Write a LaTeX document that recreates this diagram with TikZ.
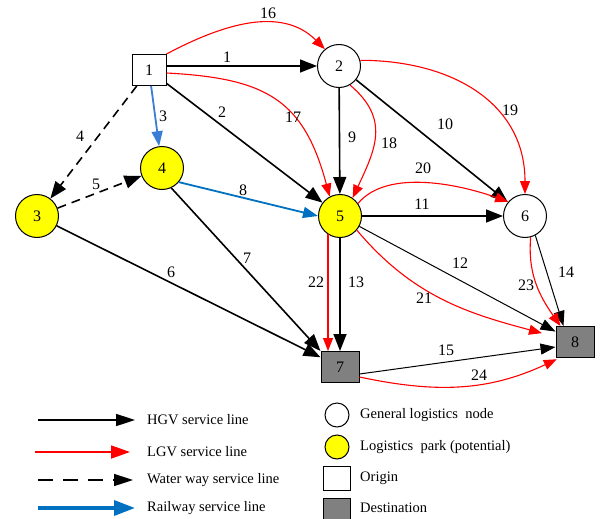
\documentclass[tikz,border=0pt]{standalone}
\usepackage{fontspec}
\setmainfont{Liberation Serif}
\usetikzlibrary{arrows.meta}
\definecolor{railblue}{RGB}{0,112,192}
\definecolor{railblue2}{RGB}{58,125,215}
\definecolor{parkyellow}{RGB}{255,255,0}
\definecolor{destgray}{RGB}{128,128,128}
\begin{document}
\begin{tikzpicture}[x=1pt,y=1pt,
 circ/.style={circle,draw,line width=1pt,minimum size=43pt,inner sep=0pt,font=\fontsize{16}{16}\selectfont},
 gen/.style={circ,fill=white},
 parknode/.style={circ,fill=parkyellow},
 orig/.style={rectangle,draw,line width=1pt,fill=white,minimum width=34pt,minimum height=31pt,inner sep=0pt,font=\fontsize{16}{16}\selectfont},
 destn/.style={orig,fill=destgray,minimum width=38pt},
 hgv/.style={line width=1.6pt,-{Triangle[length=17pt,width=13pt]}},
 thinl/.style={line width=1pt,-{Triangle[length=15pt,width=11pt]}},
 lgv/.style={red,line width=1.1pt,-{Triangle[length=13pt,width=10pt]}},
 water/.style={hgv,dash pattern=on 9pt off 6pt},
 railline/.style={railblue,line width=1.8pt,-{Triangle[length=15pt,width=11pt]}},
 lab/.style={font=\fontsize{16}{16}\selectfont,inner sep=0pt},
 legtext/.style={font=\fontsize{14.5}{14.5}\selectfont,anchor=west,inner sep=0pt},
 legsym/.style={draw,line width=1pt,inner sep=0pt}
]
\useasboundingbox (0,0) rectangle (610,-519);
% nodes
\node[orig] (n1) at (149,-70) {1};
\node[gen] (n2) at (339,-66) {2};
\node[parknode] (n3) at (37,-216) {3};
\node[parknode] (n4) at (162,-168) {4};
\node[parknode] (n5) at (340,-216) {5};
\node[gen] (n6) at (525,-216) {6};
\node[destn] (n7) at (340,-367) {7};
\node[destn] (n8) at (575,-342) {8};
% edges
\draw[hgv] (n1.east |- n2) -- (n2.west);
\draw[lgv] (n1.north east) to[out=28,in=135] (n2.130);
\draw[lgv] ([yshift=-3pt]n1.east) to[out=-3,in=105,looseness=1.25] (n5.118);
\draw[hgv] (n1) -- (n5);
\draw[railline,color=railblue2] (n1) -- (n4);
\draw[water] (n1) -- (n3);
\draw[water] (n3) -- (n4);
\draw[railline] (n4.-40) -- (n5.west);
\draw[hgv] (n3) -- (n7);
\draw[hgv] (n4.-65) -- (n7.north west);
\draw[hgv] (n2) -- (n5);
\draw[lgv] (n2.-60) to[out=-40,in=65,looseness=1.2] (n5.55);
\draw[hgv] (n2) -- (n6);
\draw[lgv] (n2.15) to[out=0,in=90,looseness=1.1] (n6.north);
\draw[lgv] (n5.35) to[out=50,in=160,looseness=0.8] (n6.140);
\draw[hgv] (n5) -- (n6);
\draw[thinl] (n5) -- (n8);
\draw[lgv,shorten >=14pt] (n5.-40) to[out=-50,in=165] (n8.165);
\draw[hgv] (n5.south) -- (n7.north);
\draw[lgv] (n5.-123) -- (n5.-123 |- n7.north);
\draw[thinl] (n6.-62) -- ([xshift=8pt]n8.north west);
\draw[lgv] (n6.-75) to[out=-95,in=125] ([xshift=5pt]n8.north west);
\draw[thinl] ([yshift=-7pt]n7.east) -- ([yshift=-5pt]n8.west);
\draw[lgv,shorten >=3pt] ([yshift=-10pt]n7.east) to[out=-12,in=-155] ([xshift=4pt]n8.south west);
% edge labels
\node[lab] (l1) at (227,-57) {1};
\node[lab] (l16) at (268,-13) {16};
\node[lab] (l17) at (293,-117) {17};
\node[lab] (l2) at (222,-112) {2};
\node[lab] (l3) at (163,-116) {3};
\node[lab] (l4) at (80,-136) {4};
\node[lab] (l5) at (96,-184) {5};
\node[lab] (l8) at (243,-190) {8};
\node[lab] (l6) at (171,-272) {6};
\node[lab] (l7) at (247,-258) {7};
\node[lab] (l9) at (352,-137) {9};
\node[lab] (l18) at (389,-143) {18};
\node[lab] (l10) at (445,-124) {10};
\node[lab] (l19) at (510,-110) {19};
\node[lab] (l20) at (423,-168) {20};
\node[lab] (l11) at (422,-204) {11};
\node[lab] (l12) at (460,-263) {12};
\node[lab] (l21) at (424,-298) {21};
\node[lab] (l13) at (356,-282) {13};
\node[lab] (l22) at (316,-282) {22};
\node[lab] (l14) at (566,-272) {14};
\node[lab] (l23) at (526,-285) {23};
\node[lab] (l15) at (446,-350) {15};
\node[lab] (l24) at (479,-375) {24};
% legend left
\coordinate (h1) at (38,-420); \coordinate (h2) at (135,-420);
\coordinate (g1) at (35,-452); \coordinate (g2) at (130,-452);
\coordinate (w1) at (38,-480); \coordinate (w2) at (133,-480);
\coordinate (r1) at (38,-508); \coordinate (r2) at (135,-508);
\draw[line width=1.6pt,-{Triangle[length=19pt,width=12pt]}] (h1) -- (h2);
\draw[red,line width=1.8pt,-{Triangle[length=19pt,width=13pt]}] (g1) -- (g2);
\draw[line width=1.6pt,dash pattern=on 15pt off 10pt,-{Triangle[length=19pt,width=12pt]}] (w1) -- (w2);
\draw[railblue,line width=3.5pt,-{Triangle[length=21pt,width=15pt]}] (r1) -- (r2);
\node[legtext] (t1) at (147,-420) {HGV service line};
\node[legtext] (t2) at (147,-452) {LGV service line};
\node[legtext] (t3) at (147,-480) {Water way service line};
\node[legtext] (t4) at (147,-508) {Railway service line};
% legend right
\node[legsym,circle,fill=white,minimum size=24pt] (s1) at (337,-415) {};
\node[legsym,circle,fill=parkyellow,minimum size=24pt] (s2) at (337,-447) {};
\node[legsym,rectangle,fill=white,minimum width=27pt,minimum height=24pt] (s3) at (337,-478) {};
\node[legsym,rectangle,fill=destgray,minimum width=27pt,minimum height=24pt] (s4) at (337,-510) {};
\node[legtext] (u1) at (360,-415) {General logistics\ \ node};
\node[legtext] (u2) at (360,-447) {Logistics\ \ park (potential)};
\node[legtext] (u3) at (360,-478) {Origin};
\node[legtext] (u4) at (360,-508) {Destination};
\end{tikzpicture}
\end{document}
